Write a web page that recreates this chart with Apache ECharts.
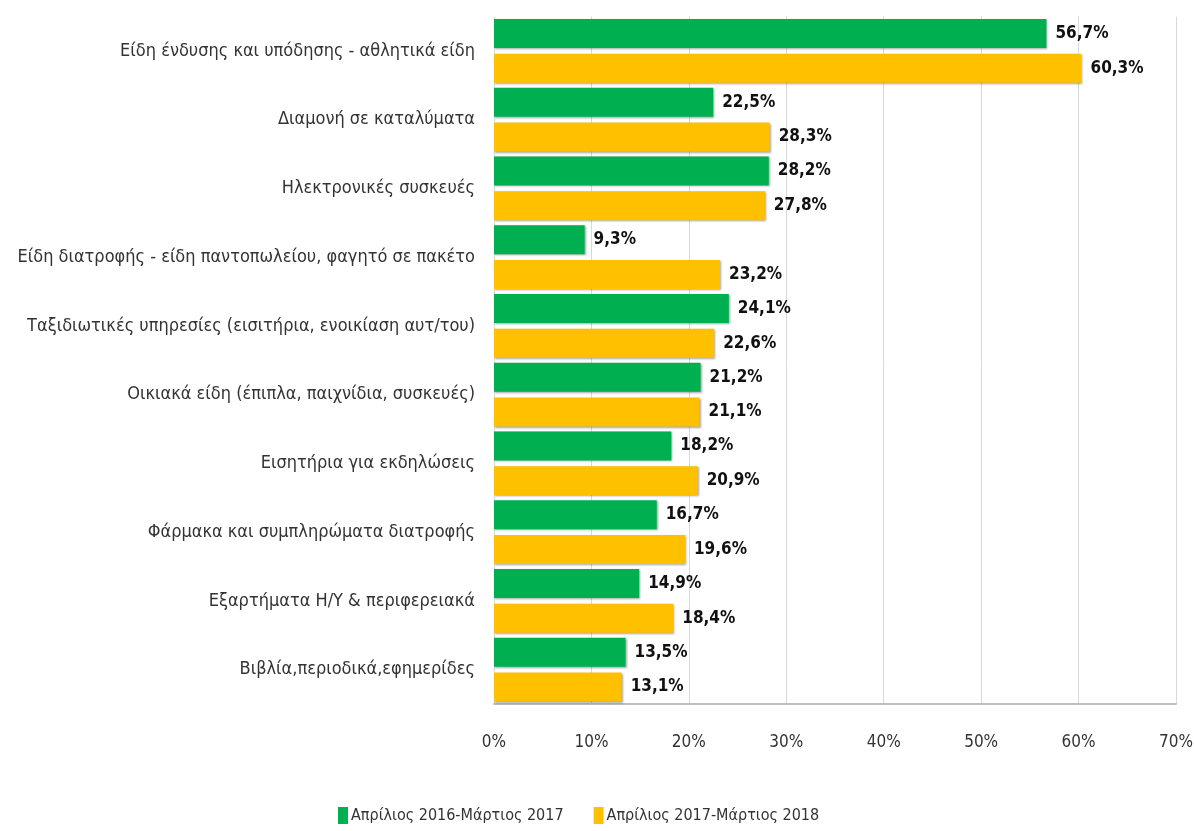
<!DOCTYPE html>
<html>
<head>
<meta charset="utf-8">
<script src="https://cdn.jsdelivr.net/npm/echarts@6/dist/echarts.min.js"></script>
<style>
  html, body { margin: 0; padding: 0; background: #ffffff; }
  #chart { width: 1194px; height: 831px; }
</style>
</head>
<body>
<div id="chart"></div>
<script>
// Categories, top to bottom
const categories = [
  'Είδη ένδυσης και υπόδησης - αθλητικά είδη',
  'Διαμονή σε καταλύματα',
  'Ηλεκτρονικές συσκευές',
  'Είδη διατροφής - είδη παντοπωλείου, φαγητό σε πακέτο',
  'Ταξιδιωτικές υπηρεσίες (εισιτήρια, ενοικίαση αυτ/του)',
  'Οικιακά είδη (έπιπλα, παιχνίδια, συσκευές)',
  'Εισητήρια για εκδηλώσεις',
  'Φάρμακα και συμπληρώματα διατροφής',
  'Εξαρτήματα Η/Υ & περιφερειακά',
  'Βιβλία,περιοδικά,εφημερίδες'
];

const seriesNames = ['Απρίλιος 2016-Μάρτιος 2017', 'Απρίλιος 2017-Μάρτιος 2018'];

// Share of buyers (%) per period
const period2016 = [56.7, 22.5, 28.2, 9.3, 24.1, 21.2, 18.2, 16.7, 14.9, 13.5];
const period2017 = [60.3, 28.3, 27.8, 23.2, 22.6, 21.1, 20.9, 19.6, 18.4, 13.1];

const xTicks = [0, 10, 20, 30, 40, 50, 60, 70];

const FONT = '"DejaVu Sans Condensed", sans-serif';

const chart = echarts.init(document.getElementById('chart'));

const fmt = v => v.toFixed(1).replace('.', ',') + '%';

function barSeries(name, data, color) {
  return {
    name: name,
    type: 'bar',
    data: data,
    barWidth: 29,
    barGap: '20%',
    itemStyle: {
      color: color,
      shadowColor: 'rgba(0,0,0,0.35)',
      shadowBlur: 2,
      shadowOffsetX: 1,
      shadowOffsetY: 1
    },
    label: {
      show: true,
      position: 'right',
      distance: 9,
      formatter: p => fmt(p.value),
      color: '#111111',
      fontWeight: 'bold',
      fontFamily: FONT,
      fontSize: 17
    }
  };
}

chart.setOption({
  backgroundColor: '#ffffff',
  animation: false,
  grid: {
    left: 494, right: 18, top: 16.5, bottom: 127,
    containLabel: false,
    outerBoundsMode: 'none'
  },
  legend: {
    bottom: 2,
    left: 333,
    itemWidth: 10,
    itemHeight: 17,
    itemGap: 30,
    icon: 'rect',
    textStyle: { fontFamily: FONT, fontSize: 16, color: '#333333', padding: [0, 0, 0, -2] },
    data: seriesNames
  },
  xAxis: {
    type: 'value',
    min: xTicks[0],
    max: xTicks[xTicks.length - 1],
    interval: 10,
    axisLabel: {
      formatter: v => v + '%',
      fontFamily: FONT,
      fontSize: 17,
      color: '#333333',
      margin: 30
    },
    axisLine: { show: true, lineStyle: { color: '#bfbfbf', width: 2 } },
    axisTick: { show: false },
    splitLine: { show: true, lineStyle: { color: '#d9d9d9', width: 1 } }
  },
  yAxis: {
    type: 'category',
    inverse: true,
    data: categories,
    axisLabel: {
      fontFamily: FONT,
      fontSize: 18,
      color: '#333333',
      margin: 19
    },
    axisLine: { show: false },
    axisTick: { show: false }
  },
  series: [
    barSeries(seriesNames[0], period2016, '#00b050'),
    barSeries(seriesNames[1], period2017, '#ffc000')
  ]
});
</script>
</body>
</html>
